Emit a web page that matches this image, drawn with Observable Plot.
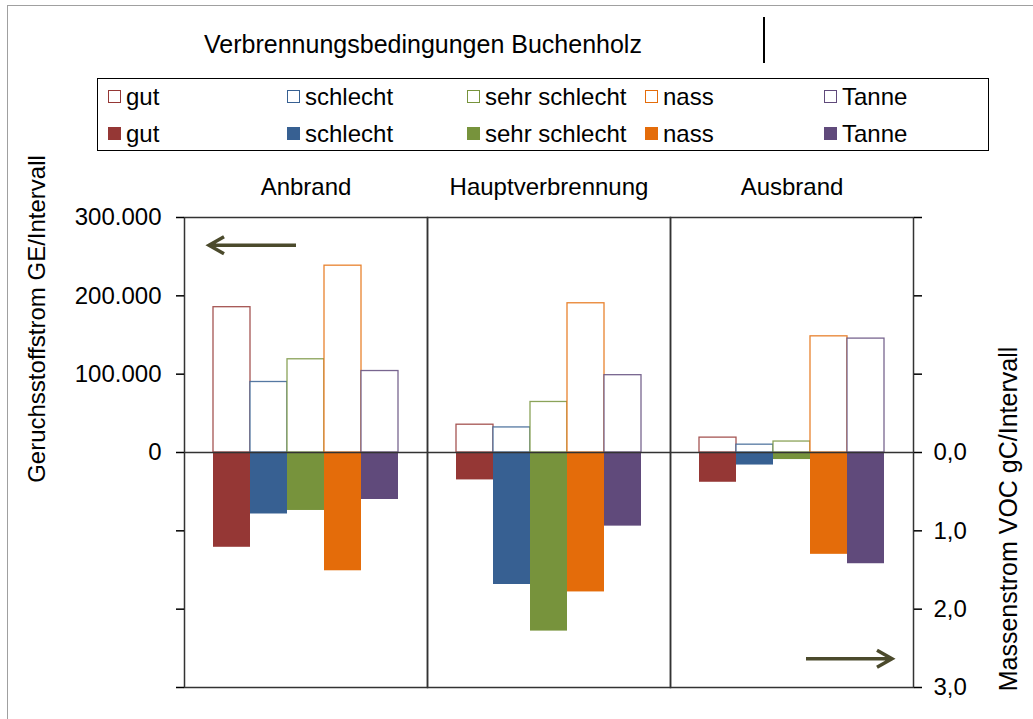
<!DOCTYPE html>
<html><head><meta charset="utf-8">
<script src="https://cdn.jsdelivr.net/npm/d3@7"></script>
<script src="https://cdn.jsdelivr.net/npm/@observablehq/plot@0.6"></script>
<style>
body{margin:0;background:#fff;font-family:"Liberation Sans",Arial,sans-serif;color:#000;}
#wrap{position:relative;width:1033px;height:719px;overflow:hidden;background:#fff;}
#wrap svg{position:absolute;left:0;top:0;}
.border{position:absolute;left:7px;top:5px;width:1040px;height:730px;border-left:1.5px solid #a0a0a0;border-top:1.5px solid #a0a0a0;}
.title{position:absolute;left:0;width:846px;top:30px;text-align:center;font-size:25px;letter-spacing:0;line-height:28px;white-space:nowrap;}
.cursor{position:absolute;left:763px;top:17px;width:2px;height:46px;background:#000;}
.legend{position:absolute;left:97px;top:78px;width:890px;height:71px;border:1.5px solid #000;}
.item{position:absolute;font-size:24px;line-height:24px;white-space:nowrap;}
.sw{position:absolute;width:13px;height:13px;box-sizing:border-box;}
</style></head><body>
<div id="wrap">
  <div class="border"></div>
</div>
<script>
const phases = ["Anbrand", "Hauptverbrennung", "Ausbrand"];
const conditions = ["gut", "schlecht", "sehr schlecht", "nass", "Tanne"];
const colors = ["#953735", "#376092", "#77933C", "#E46C0A", "#604A7B"];
// Geruchsstoffstrom GE/Intervall (left axis, bars upward)
const geAnbrand = [185500, 90000, 119000, 238500, 104000];
const geHaupt = [35500, 32000, 64500, 190500, 98700];
const geAusbrand = [19000, 10000, 14000, 148300, 145400];
// Massenstrom VOC gC/Intervall (right axis, bars downward)
const vocAnbrand = [1.21, 0.785, 0.74, 1.51, 0.60];
const vocHaupt = [0.35, 1.685, 2.28, 1.78, 0.94];
const vocAusbrand = [0.38, 0.16, 0.09, 1.30, 1.42];
const yTicks = [300000, 200000, 100000, 0, -100000, -200000, -300000];
const vocFactor = 100000; // 1,0 gC on the right axis sits at 100.000 GE of the left axis
const titleText = "Verbrennungsbedingungen Buchenholz";
const yLabelLeft = "Geruchsstoffstrom GE/Intervall";
const yLabelRight = "Massenstrom VOC gC/Intervall";

const geByPhase = [geAnbrand, geHaupt, geAusbrand];
const vocByPhase = [vocAnbrand, vocHaupt, vocAusbrand];
const rows = [];
phases.forEach((p, i) => conditions.forEach((c, j) => rows.push({phase: p, cond: c, ge: geByPhase[i][j], voc: vocByPhase[i][j]})));

const de = d3.formatLocale({decimal: ",", thousands: ".", grouping: [3], currency: ["", ""]});
const fmtL = de.format(",");
const fmtR = de.format(".1f");

const wrap = document.getElementById("wrap");

const chart = Plot.plot({
  width: 1033, height: 719,
  marginTop: 217, marginBottom: 32, marginLeft: 183, marginRight: 120,
  style: {fontFamily: "Liberation Sans, Arial, sans-serif", fontSize: "24px", color: "#000", background: "transparent", overflow: "visible"},
  fx: {domain: phases, padding: 0, label: null},
  x: {domain: conditions, paddingInner: 0, paddingOuter: 0.7, axis: null},
  y: {domain: [-300000, 300000], axis: null},
  color: {domain: conditions, range: colors},
  marks: [
    Plot.barY(rows, {fx: "phase", x: "cond", y: "ge", fill: "white", stroke: "cond", strokeWidth: 1.3, strokeOpacity: 0.85, inset: 0}),
    Plot.barY(rows, {fx: "phase", x: "cond", y: d => -d.voc * vocFactor, fill: "cond", inset: 0}),
    Plot.ruleY([0], {stroke: "#333", strokeWidth: 1.5}),
    Plot.frame({stroke: "#333", strokeWidth: 1.5}),
    Plot.axisY({anchor: "left", ticks: yTicks, tickFormat: d => d >= 0 ? fmtL(d) : "", tickSize: 8, tickPadding: 15, strokeWidth: 1.5, label: null, fontSize: 24}),
    Plot.axisY({anchor: "right", ticks: yTicks, tickFormat: d => d <= 0 ? fmtR(Math.abs(d) / vocFactor) : "", tickSize: 8, tickPadding: 12, strokeWidth: 1.5, label: null, fontSize: 24}),
    Plot.axisFx({anchor: "top", tickSize: 0, tickPadding: 23, label: null, fontSize: 24})
  ]
});
wrap.appendChild(chart);

// axis titles and direction arrows
const svg = d3.select(chart);
const ys = chart.scale("y");
svg.append("text").attr("transform", "translate(45,319) rotate(-90)").attr("text-anchor", "middle")
  .attr("font-size", 24).attr("fill", "#000").text(yLabelLeft);
svg.append("text").attr("transform", "translate(1017,519) rotate(-90)").attr("text-anchor", "middle")
  .attr("font-size", 25).attr("fill", "#000").text(yLabelRight);
const arrowY = 264000;
const yl = ys.apply(arrowY), yr = ys.apply(-arrowY);
const ac = "#4b4a2c";
svg.append("path").attr("d", `M296,${yl}H209M224,${yl - 8.5}L209,${yl}L224,${yl + 8.5}`)
  .attr("fill", "none").attr("stroke", ac).attr("stroke-width", 3.5);
svg.append("path").attr("d", `M806,${yr}H892M877,${yr - 8.5}L892,${yr}L877,${yr + 8.5}`)
  .attr("fill", "none").attr("stroke", ac).attr("stroke-width", 3.5);

// title, cursor bar, legend
const t = document.createElement("div"); t.className = "title"; t.textContent = titleText; wrap.appendChild(t);
const cur = document.createElement("div"); cur.className = "cursor"; wrap.appendChild(cur);
const lg = document.createElement("div"); lg.className = "legend"; wrap.appendChild(lg);
const colX = [10, 189, 369, 547, 726];
[0, 1].forEach(r => {
  conditions.forEach((c, j) => {
    const sw = document.createElement("div"); sw.className = "sw";
    sw.style.left = colX[j] + "px"; sw.style.top = (11 + r * 37) + "px";
    if (r === 0) { sw.style.border = "1.5px solid " + colors[j]; sw.style.background = "#fff"; }
    else { sw.style.background = colors[j]; }
    lg.appendChild(sw);
    const it = document.createElement("div"); it.className = "item";
    it.style.left = (colX[j] + 18) + "px"; it.style.top = (6 + r * 37) + "px";
    it.textContent = c; lg.appendChild(it);
  });
});
</script>
</body></html>
